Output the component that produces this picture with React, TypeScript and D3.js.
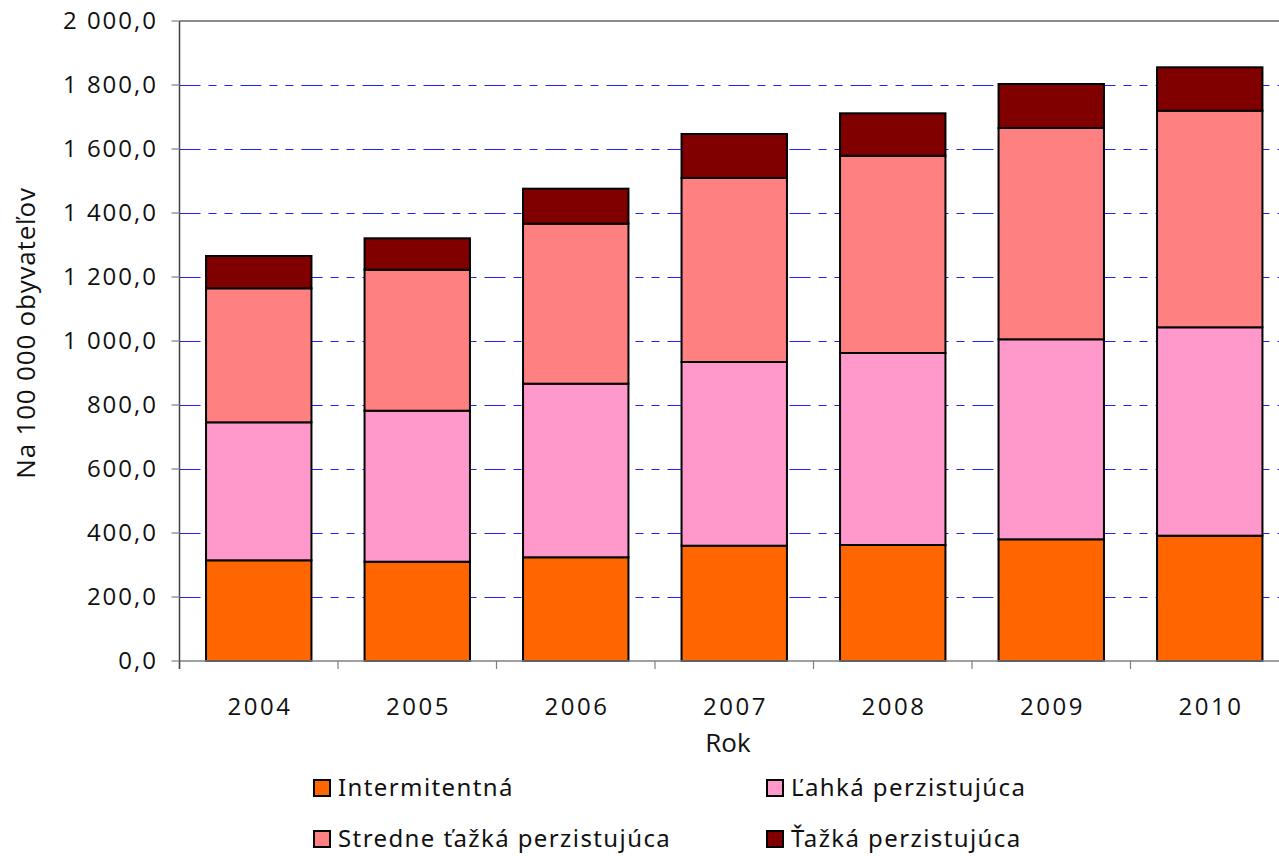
import React from "react";
import * as d3 from "d3";

const years = ["2004", "2005", "2006", "2007", "2008", "2009", "2010"];
const intermitentna = [314.7, 310.3, 324.1, 360.3, 362.5, 380.3, 391.6];
const lahka = [431.2, 471.9, 542.5, 574.1, 600.0, 625.0, 651.2];
const stredne = [418.8, 440.6, 500.0, 575.0, 616.5, 660.3, 676.9];
const tazka = [100.9, 98.1, 109.4, 137.5, 132.5, 137.5, 135.6];
const seriesNames = ["Intermitentná", "Ľahká perzistujúca", "Stredne ťažká perzistujúca", "Ťažká perzistujúca"];
const seriesColors = ["#FF6600", "#FF99CC", "#FF8080", "#800000"];
const yTicks = [0, 200, 400, 600, 800, 1000, 1200, 1400, 1600, 1800, 2000];

const W = 1279;
const H = 856;
const X0 = 179.5;
const STEP = 158.5;
const Y0 = 661;
const Y1 = 21;

const axisFont = "'Open Sans', 'DejaVu Sans', sans-serif";

function fmt(v: number): string {
  const s = v.toFixed(1).replace(".", ",");
  const [i, d] = s.split(",");
  const ii = i.length > 3 ? i.slice(0, i.length - 3) + " " + i.slice(-3) : i;
  return ii + "," + d;
}

export default function App() {
  const x = d3
    .scaleBand<string>()
    .domain(years)
    .range([X0, X0 + STEP * years.length])
    .paddingInner(0.335)
    .paddingOuter(0.1675);
  const y = d3.scaleLinear().domain([0, 2000]).range([Y0, Y1]);

  const table = years.map((yr, i) => ({
    year: yr,
    s0: intermitentna[i],
    s1: lahka[i],
    s2: stredne[i],
    s3: tazka[i],
  }));
  const stack = d3.stack<any>().keys(["s0", "s1", "s2", "s3"])(table);

  const legendItems = [
    { name: seriesNames[0], color: seriesColors[0], sx: 314, ty: 788 },
    { name: seriesNames[1], color: seriesColors[1], sx: 767, ty: 788 },
    { name: seriesNames[2], color: seriesColors[2], sx: 314, ty: 839 },
    { name: seriesNames[3], color: seriesColors[3], sx: 767, ty: 839 },
  ];

  return (
    <svg
      width={W}
      height={H}
      style={{ position: "absolute", left: 0, top: 0, background: "#fff" }}
      fontFamily={axisFont}
    >
      <rect x={0} y={0} width={W} height={H} fill="#fff" />
      {/* gridlines */}
      {yTicks
        .filter((t) => t > 0 && t < 2000)
        .map((t) => (
          <line
            key={"g" + t}
            x1={X0}
            x2={W}
            y1={y(t) + 0.5}
            y2={y(t) + 0.5}
            stroke="#2020ff"
            strokeWidth={1}
            strokeDasharray="21 8 8 8 8 8"
          />
        ))}
      {/* top border */}
      <line x1={X0} x2={W} y1={Y1} y2={Y1} stroke="#8c8c8c" strokeWidth={2} />
      {/* bars */}
      {stack.map((layer, li) =>
        layer.map((d, i) => (
          <rect
            key={li + "-" + i}
            x={x(years[i])}
            y={y(d[1])}
            width={x.bandwidth()}
            height={y(d[0]) - y(d[1])}
            fill={seriesColors[li]}
            stroke="#000"
            strokeWidth={2}
          />
        ))
      )}
      {/* x axis */}
      <line x1={X0} x2={W} y1={Y0} y2={Y0} stroke="#808080" strokeWidth={1.5} />
      {years.map((yr, i) => (
        <line
          key={"xt" + i}
          x1={X0 + STEP * i}
          x2={X0 + STEP * i}
          y1={Y0}
          y2={Y0 + 8}
          stroke="#808080"
          strokeWidth={1.2}
        />
      ))}
      {years.map((yr) => (
        <text
          key={"xl" + yr}
          x={(x(yr) as number) + x.bandwidth() / 2 + 1.25}
          y={715}
          textAnchor="middle"
          fontSize={24}
          letterSpacing={2.5}
          fill="#111"
        >
          {yr}
        </text>
      ))}
      <text x={728} y={752} textAnchor="middle" fontSize={26} fill="#111">
        Rok
      </text>
      {/* y axis */}
      <line x1={X0} x2={X0} y1={Y1} y2={Y0 + 8} stroke="#404040" strokeWidth={1.5} />
      {yTicks.map((t) => (
        <g key={"yt" + t}>
          <line x1={X0 - 8} x2={X0} y1={y(t)} y2={y(t)} stroke="#808080" strokeWidth={1.2} />
          <text
            x={158}
            y={y(t)}
            dy="0.35em"
            textAnchor="end"
            fontSize={24}
            letterSpacing={2}
            fill="#111"
          >
            {fmt(t)}
          </text>
        </g>
      ))}
      <text
        transform={`translate(35,333) rotate(-90)`}
        textAnchor="middle"
        fontSize={26}
        letterSpacing={0.8}
        fill="#111"
      >
        Na 100 000 obyvateľov
      </text>
      {/* legend */}
      {legendItems.map((it) => (
        <g key={it.name}>
          <rect
            x={it.sx}
            y={it.ty - 8}
            width={16}
            height={16}
            fill={it.color}
            stroke="#000"
            strokeWidth={2}
          />
          <text
            x={it.sx + 24}
            y={it.ty}
            dy="0.35em"
            fontSize={24}
            letterSpacing={1.4}
            fontFamily="'Noto Sans', sans-serif"
            fill="#111"
          >
            {it.name}
          </text>
        </g>
      ))}
    </svg>
  );
}
